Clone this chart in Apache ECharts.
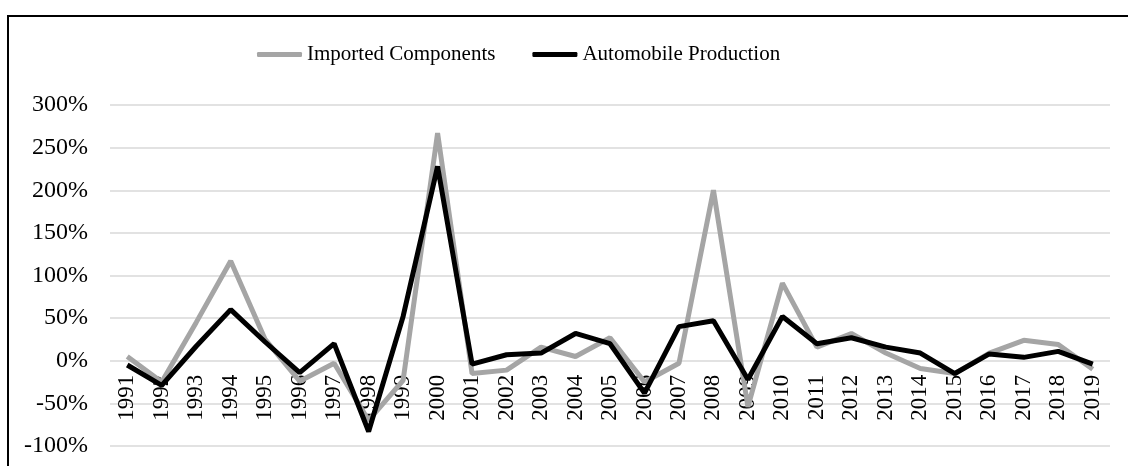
<!DOCTYPE html>
<html>
<head>
<meta charset="utf-8">
<script src="https://cdn.jsdelivr.net/npm/echarts@6/dist/echarts.min.js"></script>
<style>
html,body{margin:0;padding:0;background:#fff;}
#chart{width:1128px;height:466px;}
</style>
</head>
<body>
<div id="chart"></div>
<script>
const years = ['1991','1992','1993','1994','1995','1996','1997','1998','1999','2000',
  '2001','2002','2003','2004','2005','2006','2007','2008','2009','2010',
  '2011','2012','2013','2014','2015','2016','2017','2018','2019'];
const importedComponents = [5,-25,45,117,25,-24,-3,-70,-23,267,
  -15,-11,16,5,27,-25,-3,200,-54,91,
  16,32,9,-9,-15,9,24,19,-10];
const automobileProduction = [-5,-29,17,60,22,-14,20,-83,52,228,
  -4,7,9,32,20,-38,40,47,-22,52,
  20,27,16,9,-15,8,4,11,-4];
const yTicks = {min:-100, max:300, interval:50};

const H = 466, gridTop = 105, gridBottom = 20;
const gridH = H - gridTop - gridBottom;
// move the category axis up to the 0 value of the y scale
const zeroOffset = -gridH * (0 - yTicks.min) / (yTicks.max - yTicks.min);

const font = '"Liberation Serif", "Times New Roman", serif';
const chart = echarts.init(document.getElementById('chart'));
chart.setOption({
  animation:false,
  graphic:[{
    type:'rect', silent:true,
    shape:{x:8, y:16, width:1400, height:800},
    style:{fill:'none', stroke:'#000', lineWidth:2}
  }],
  legend:{
    left:252, top:39,
    itemWidth:45, itemHeight:5, itemGap:37,
    icon:'roundRect',
    textStyle:{fontFamily:font, fontSize:21, color:'#000'},
    data:['Imported Components','Automobile Production']
  },
  grid:{left:110, right:18, top:gridTop, bottom:gridBottom, containLabel:false, outerBoundsMode:'none'},
  xAxis:{
    type:'category', data:years, boundaryGap:true, position:'bottom', offset:zeroOffset,
    axisLine:{show:false, onZero:false},
    axisTick:{show:false},
    axisLabel:{rotate:90, margin:14, fontFamily:font, fontSize:23, color:'#000', interval:0}
  },
  yAxis:{
    type:'value', min:yTicks.min, max:yTicks.max, interval:yTicks.interval,
    axisLine:{show:false}, axisTick:{show:false},
    axisLabel:{formatter:'{value}%', margin:22, fontFamily:font, fontSize:24, color:'#000'},
    splitLine:{lineStyle:{color:'#d9d9d9', width:1.5}}
  },
  series:[
    {name:'Imported Components', type:'line', data:importedComponents, symbol:'none',
     lineStyle:{color:'#a5a5a5', width:5}, itemStyle:{color:'#a5a5a5'}},
    {name:'Automobile Production', type:'line', data:automobileProduction, symbol:'none',
     lineStyle:{color:'#000', width:5}, itemStyle:{color:'#000'}}
  ]
});
</script>
</body>
</html>
